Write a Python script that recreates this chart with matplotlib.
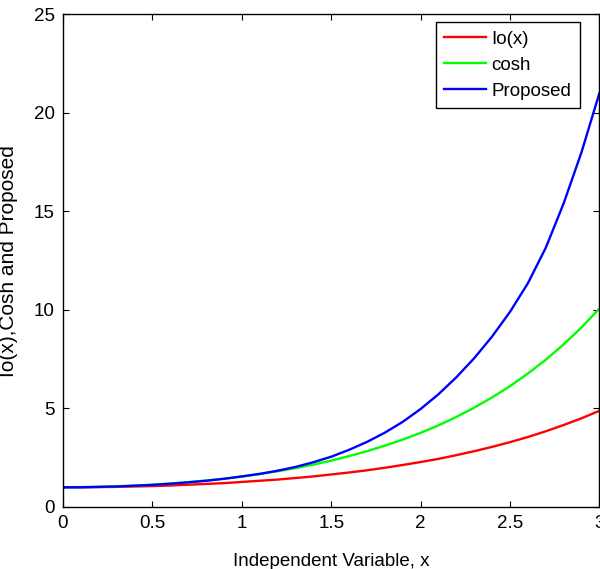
import matplotlib
matplotlib.use("Agg")
import matplotlib.pyplot as plt

x_vals = [0.0, 0.1, 0.2, 0.3, 0.4, 0.5, 0.6, 0.7, 0.8, 0.9, 1.0,
          1.1, 1.2, 1.3, 1.4, 1.5, 1.6, 1.7, 1.8, 1.9, 2.0,
          2.1, 2.2, 2.3, 2.4, 2.5, 2.6, 2.7, 2.8, 2.9, 3.0]

io_vals = [1.00, 1.00, 1.01, 1.02, 1.04, 1.06, 1.09, 1.13, 1.17, 1.21, 1.27,
           1.33, 1.39, 1.47, 1.55, 1.65, 1.75, 1.86, 1.99, 2.13, 2.28,
           2.44, 2.63, 2.83, 3.05, 3.29, 3.55, 3.84, 4.16, 4.50, 4.88]

cosh_vals = [1.00, 1.01, 1.02, 1.05, 1.08, 1.13, 1.19, 1.26, 1.34, 1.43, 1.54,
             1.67, 1.81, 1.97, 2.15, 2.35, 2.58, 2.83, 3.11, 3.42, 3.76,
             4.14, 4.57, 5.04, 5.56, 6.13, 6.77, 7.47, 8.25, 9.11, 10.07]

proposed_vals = [1.00, 1.00, 1.02, 1.04, 1.08, 1.12, 1.18, 1.25, 1.33, 1.43, 1.55,
                 1.68, 1.84, 2.03, 2.27, 2.55, 2.90, 3.30, 3.77, 4.32, 4.97,
                 5.72, 6.58, 7.55, 8.65, 9.90, 11.35, 13.15, 15.40, 18.00, 21.00]

labels = ["Io(x)", "cosh", "Proposed"]
x_ticks = [0, 0.5, 1, 1.5, 2, 2.5, 3]
x_ticklabels = ["0", "0.5", "1", "1.5", "2", "2.5", "3"]
y_ticks = [0, 5, 10, 15, 20, 25]

plt.rcParams['font.family'] = ['Liberation Sans', 'DejaVu Sans']

fig = plt.figure(figsize=(6.0, 5.69), dpi=100)
ax = fig.add_axes([0.105, 0.109, 0.894, 0.866])

ax.plot(x_vals, io_vals, color=(1, 0, 0), lw=1.7, label=labels[0])
ax.plot(x_vals, cosh_vals, color=(0, 1, 0), lw=1.7, label=labels[1])
ax.plot(x_vals, proposed_vals, color=(0, 0, 1), lw=1.7, label=labels[2])

ax.set_xlim(0, 3)
ax.set_ylim(0, 25)
ax.set_xticks(x_ticks)
ax.set_xticklabels(x_ticklabels)
ax.set_yticks(y_ticks)
ax.tick_params(direction='in', length=4, width=0.8, top=True, right=True,
               labelsize=13.5, pad=6)
for s in ax.spines.values():
    s.set_linewidth(1.0)
    s.set_color('black')

ax.set_xlabel("Independent Variable, x", fontsize=13.5)
ax.xaxis.set_label_coords(0.5, -0.093)
ax.set_ylabel("Io(x),Cosh and Proposed", fontsize=15)
ax.yaxis.set_label_coords(-0.084, 0.5)

leg = ax.legend(loc='upper right', bbox_to_anchor=(0.963, 0.984),
                borderaxespad=0, fontsize=13.5, frameon=True, fancybox=False,
                edgecolor='black', framealpha=1,
                handlelength=2.2, handletextpad=0.3, labelspacing=0.47,
                borderpad=0.45)
leg.get_frame().set_linewidth(1.0)

fig.savefig("out.png", dpi=100)
